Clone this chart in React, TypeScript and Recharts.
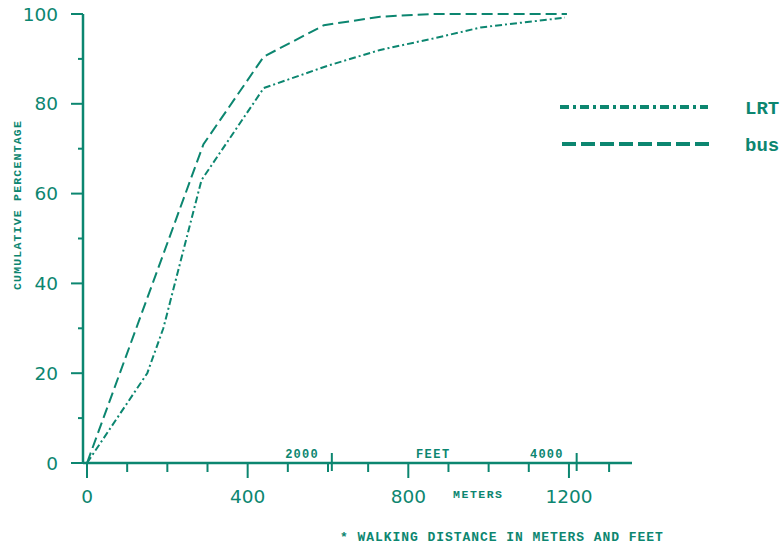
import { LineChart, Line, XAxis, YAxis, Legend } from 'recharts'

// walking distance (meters) vs cumulative percentage
const lrtMeters = [0, 150, 190, 285, 440, 600, 730, 870, 980, 1190]
const lrtPct = [0, 20, 30, 63, 83.5, 88.5, 92, 94.7, 97, 99.2]
const busMeters = [0, 290, 440, 590, 730, 860, 1195]
const busPct = [0, 71, 90.5, 97.5, 99.4, 100, 100]

const meterTicks = [0, 100, 200, 300, 400, 500, 600, 700, 800, 900, 1000, 1100, 1200, 1300]
const meterLabels = [0, 400, 800, 1200]
const feetTicks = [2000, 4000]
const yTicks = [0, 10, 20, 30, 40, 50, 60, 70, 80, 90, 100]
const yLabels = [0, 20, 40, 60, 80, 100]

const FT_TO_M = 0.3048
const TEAL = '#0c8670'
const MONO = '"Liberation Mono", "DejaVu Sans Mono", monospace'

const lrtData = lrtMeters.map((m, i) => ({ m, pct: lrtPct[i] }))
const busData = busMeters.map((m, i) => ({ m, pct: busPct[i] }))
const feetInMeters = feetTicks.map(f => f * FT_TO_M)

const legendItems = [
  { name: 'LRT', dash: '9 4 3 4', x1: 5, x2: 153, y: 12 },
  { name: 'bus', dash: '14 5', x1: 7, x2: 158, y: 49 },
]

function XTick({ x, y, payload }: any) {
  const v = payload.value
  const feetIdx = feetInMeters.findIndex(f => Math.abs(f - v) < 0.01)
  if (feetIdx >= 0) {
    return (
      <g>
        <line x1={x} x2={x} y1={y - 10} y2={y + 8} stroke={TEAL} strokeWidth={2} />
        <text x={x - 13} y={y - 5} textAnchor="end" fill={TEAL} fontFamily={MONO} fontWeight="bold" fontSize={12} letterSpacing={1.2}>
          {feetTicks[feetIdx]}
        </text>
      </g>
    )
  }
  const major = meterLabels.includes(v)
  return (
    <g>
      <line x1={x} x2={x} y1={y} y2={y + (major ? 15 : 9)} stroke={TEAL} strokeWidth={2} />
      {major && (
        <text x={x} y={y + 40} textAnchor="middle" fill={TEAL} fontFamily="DejaVu Sans" fontSize={18.5}>
          {v}
        </text>
      )}
      {v === 800 && (
        <>
          <text x={x + 25} y={y - 5} textAnchor="middle" fill={TEAL} fontFamily={MONO} fontWeight="bold" fontSize={12} letterSpacing={1.5}>FEET</text>
          <text x={x + 70} y={y + 35} textAnchor="middle" fill={TEAL} fontFamily={MONO} fontWeight="bold" fontSize={11.5} letterSpacing={1.5}>METERS</text>
        </>
      )}
    </g>
  )
}

function YTick({ x, y, payload }: any) {
  const v = payload.value
  const major = yLabels.includes(v)
  return (
    <g>
      <line x1={x - (major ? 12 : 5)} x2={x} y1={y} y2={y} stroke={TEAL} strokeWidth={2} />
      {major && (
        <text x={x - 25} y={y + 6.5} textAnchor="end" fill={TEAL} fontFamily="DejaVu Sans" fontSize={18.5}>
          {v}
        </text>
      )}
    </g>
  )
}

function LegendBox() {
  return (
    <svg width={227} height={70} style={{ overflow: 'hidden', display: 'block' }}>
      {legendItems.map(it => (
        <g key={it.name}>
          <line x1={it.x1} x2={it.x2} y1={it.y} y2={it.y} stroke={TEAL} strokeWidth={4} strokeDasharray={it.dash} />
          <text x={190} y={it.y + 7} fill={TEAL} fontFamily={MONO} fontWeight="bold" fontSize={19}>{it.name}</text>
        </g>
      ))}
    </svg>
  )
}

export default function App() {
  return (
    <div style={{ position: 'absolute', left: 0, top: 0, width: 782, height: 548, background: '#fff', overflow: 'hidden' }}>
      <LineChart width={782} height={548} margin={{ top: 14, right: 150, bottom: 40, left: 0 }}>
        <XAxis
          type="number"
          dataKey="m"
          domain={[-10, 1357]}
          ticks={[...meterTicks, ...feetInMeters]}
          interval={0}
          tick={<XTick />}
          tickLine={false}
          tickSize={0}
          tickMargin={0}
          height={45}
          axisLine={{ stroke: TEAL, strokeWidth: 2.5 }}
          allowDataOverflow
        />
        <YAxis
          type="number"
          domain={[0, 100]}
          ticks={yTicks}
          interval={0}
          tick={<YTick />}
          tickLine={false}
          tickSize={0}
          tickMargin={0}
          width={83}
          axisLine={{ stroke: TEAL, strokeWidth: 2.5 }}
        />
        <Legend
          layout="horizontal"
          verticalAlign="middle"
          align="center"
          content={() => <LegendBox />}
          wrapperStyle={{ position: 'absolute', left: 555, top: 95, width: 227, height: 70 }}
        />
        <Line data={lrtData} dataKey="pct" name="LRT" type="linear" stroke={TEAL} strokeWidth={2} strokeDasharray="7 3 2 3" dot={false} isAnimationActive={false} />
        <Line data={busData} dataKey="pct" name="bus" type="linear" stroke={TEAL} strokeWidth={2} strokeDasharray="11 5" dot={false} isAnimationActive={false} />
      </LineChart>
      <svg width={782} height={548} style={{ position: 'absolute', left: 0, top: 0, pointerEvents: 'none' }}>
        <text transform="translate(21,205) rotate(-90)" textAnchor="middle" fill={TEAL} fontFamily={MONO} fontWeight="bold" fontSize={11.5} letterSpacing={1.2}>
          CUMULATIVE PERCENTAGE
        </text>
        <text x={340} y={541} fill={TEAL} fontFamily={MONO} fontWeight="bold" fontSize={13} letterSpacing={0.95}>
          * WALKING DISTANCE IN METERS AND FEET
        </text>
      </svg>
    </div>
  )
}
